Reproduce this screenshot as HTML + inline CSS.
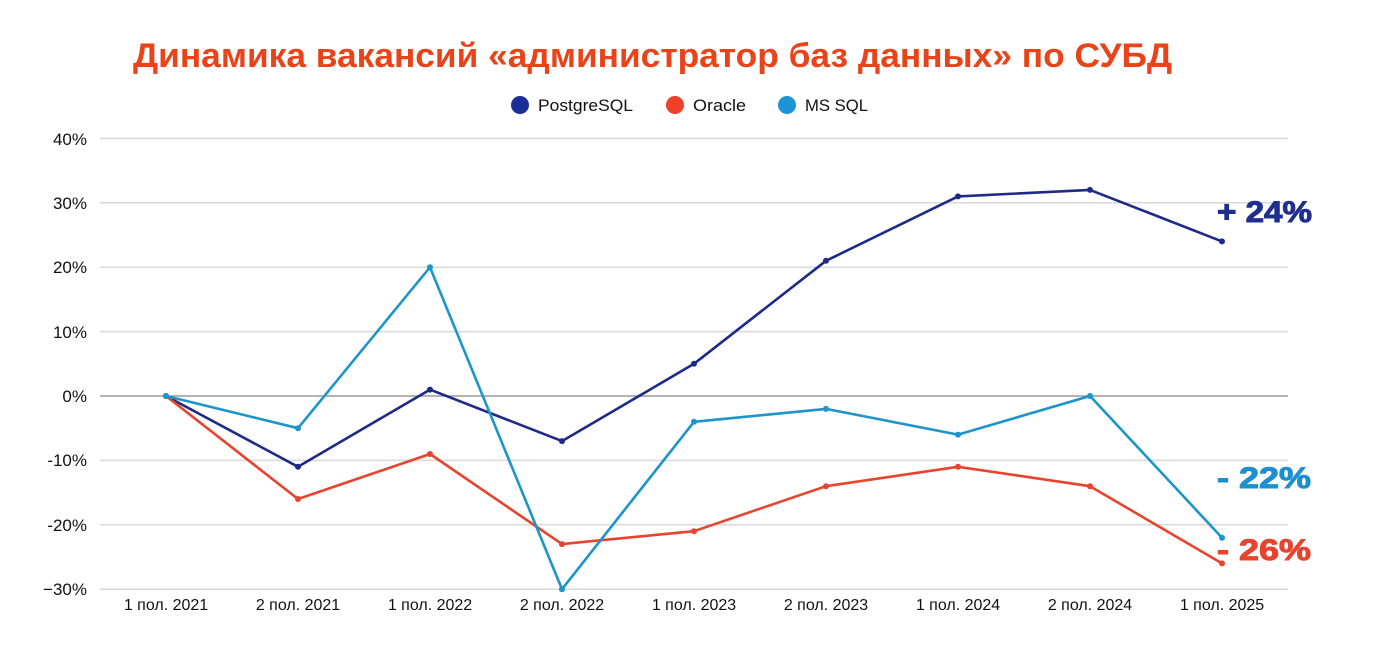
<!DOCTYPE html>
<html><head><meta charset="utf-8"><style>
html,body{margin:0;padding:0;background:#fff;}
svg{display:block;}
text{font-family:"Liberation Sans","Noto Sans CJK SC",sans-serif;}
</style></head><body>
<svg width="1379" height="655" viewBox="0 0 1379 655" xmlns="http://www.w3.org/2000/svg">
<rect width="1379" height="655" fill="#fff"/>
<text x="133" y="67" font-size="34" font-weight="bold" fill="#e94319" textLength="1039" lengthAdjust="spacingAndGlyphs">Динамика вакансий «администратор баз данных» по СУБД</text>
<!-- legend -->
<circle cx="520" cy="105" r="9" fill="#1b2e96"/>
<text x="538" y="111" font-size="17" fill="#111" textLength="95" lengthAdjust="spacingAndGlyphs">PostgreSQL</text>
<circle cx="675" cy="105" r="9" fill="#f0402a"/>
<text x="693" y="111" font-size="17" fill="#111" textLength="53" lengthAdjust="spacingAndGlyphs">Oracle</text>
<circle cx="787" cy="105" r="9" fill="#1b95d6"/>
<text x="805" y="111" font-size="17" fill="#111" textLength="63" lengthAdjust="spacingAndGlyphs">MS SQL</text>
<!-- grid -->
<g stroke="#d9d9d9" stroke-width="1.5">
<line x1="100" y1="138.4" x2="1288" y2="138.4"/>
<line x1="100" y1="202.8" x2="1288" y2="202.8"/>
<line x1="100" y1="267.2" x2="1288" y2="267.2"/>
<line x1="100" y1="331.6" x2="1288" y2="331.6"/>
<line x1="100" y1="460.4" x2="1288" y2="460.4"/>
<line x1="100" y1="524.8" x2="1288" y2="524.8"/>
<line x1="100" y1="589.2" x2="1288" y2="589.2"/>
</g>
<line x1="100" y1="396" x2="1288" y2="396" stroke="#9a9a9a" stroke-width="1.5"/>
<g font-size="17" fill="#111" text-anchor="end">
<text x="87" y="145">40%</text>
<text x="87" y="209">30%</text>
<text x="87" y="273">20%</text>
<text x="87" y="338">10%</text>
<text x="87" y="402">0%</text>
<text x="87" y="466">-10%</text>
<text x="87" y="531">-20%</text>
<text x="87" y="595">−30%</text>
</g>
<g font-size="16" fill="#111" text-anchor="middle">
<text x="166" y="610">1 пол. 2021</text>
<text x="298" y="610">2 пол. 2021</text>
<text x="430" y="610">1 пол. 2022</text>
<text x="562" y="610">2 пол. 2022</text>
<text x="694" y="610">1 пол. 2023</text>
<text x="826" y="610">2 пол. 2023</text>
<text x="958" y="610">1 пол. 2024</text>
<text x="1090" y="610">2 пол. 2024</text>
<text x="1222" y="610">1 пол. 2025</text>
</g>
<!-- series -->
<g fill="none" stroke-width="2.6" stroke-linejoin="round">
<polyline stroke="#1e2a87" points="166,396 298,466.8 430,389.6 562,441.1 694,363.8 826,260.8 958,196.4 1090,189.9 1222,241.4"/>
<polyline stroke="#e8432d" points="166,396 298,499 430,454 562,544.1 694,531.2 826,486.2 958,466.8 1090,486.2 1222,563.4"/>
<polyline stroke="#1c94cc" points="166,396 298,428.2 430,267.2 562,589.2 694,421.8 826,408.9 958,434.6 1090,396 1222,537.7"/>
</g>
<g fill="#1e2a87">
<circle cx="166" cy="396" r="3"/><circle cx="298" cy="466.8" r="3"/><circle cx="430" cy="389.6" r="3"/><circle cx="562" cy="441.1" r="3"/><circle cx="694" cy="363.8" r="3"/><circle cx="826" cy="260.8" r="3"/><circle cx="958" cy="196.4" r="3"/><circle cx="1090" cy="189.9" r="3"/><circle cx="1222" cy="241.4" r="3"/>
</g>
<g fill="#e8432d">
<circle cx="166" cy="396" r="3"/><circle cx="298" cy="499" r="3"/><circle cx="430" cy="454" r="3"/><circle cx="562" cy="544.1" r="3"/><circle cx="694" cy="531.2" r="3"/><circle cx="826" cy="486.2" r="3"/><circle cx="958" cy="466.8" r="3"/><circle cx="1090" cy="486.2" r="3"/><circle cx="1222" cy="563.4" r="3"/>
</g>
<g fill="#1c94cc">
<circle cx="166" cy="396" r="3"/><circle cx="298" cy="428.2" r="3"/><circle cx="430" cy="267.2" r="3"/><circle cx="562" cy="589.2" r="3"/><circle cx="694" cy="421.8" r="3"/><circle cx="826" cy="408.9" r="3"/><circle cx="958" cy="434.6" r="3"/><circle cx="1090" cy="396" r="3"/><circle cx="1222" cy="537.7" r="3"/>
</g>
<!-- annotations -->
<text x="1217" y="222" font-size="30" font-weight="bold" fill="#1e2f8f" stroke="#1e2f8f" stroke-width="1" textLength="95" lengthAdjust="spacingAndGlyphs">+ 24%</text>
<text x="1217" y="488" font-size="30" font-weight="bold" fill="#1c8fd0" stroke="#1c8fd0" stroke-width="1" textLength="94" lengthAdjust="spacingAndGlyphs">- 22%</text>
<text x="1217" y="560" font-size="30" font-weight="bold" fill="#e8432d" stroke="#e8432d" stroke-width="1" textLength="94" lengthAdjust="spacingAndGlyphs">- 26%</text>
</svg>
</body></html>
